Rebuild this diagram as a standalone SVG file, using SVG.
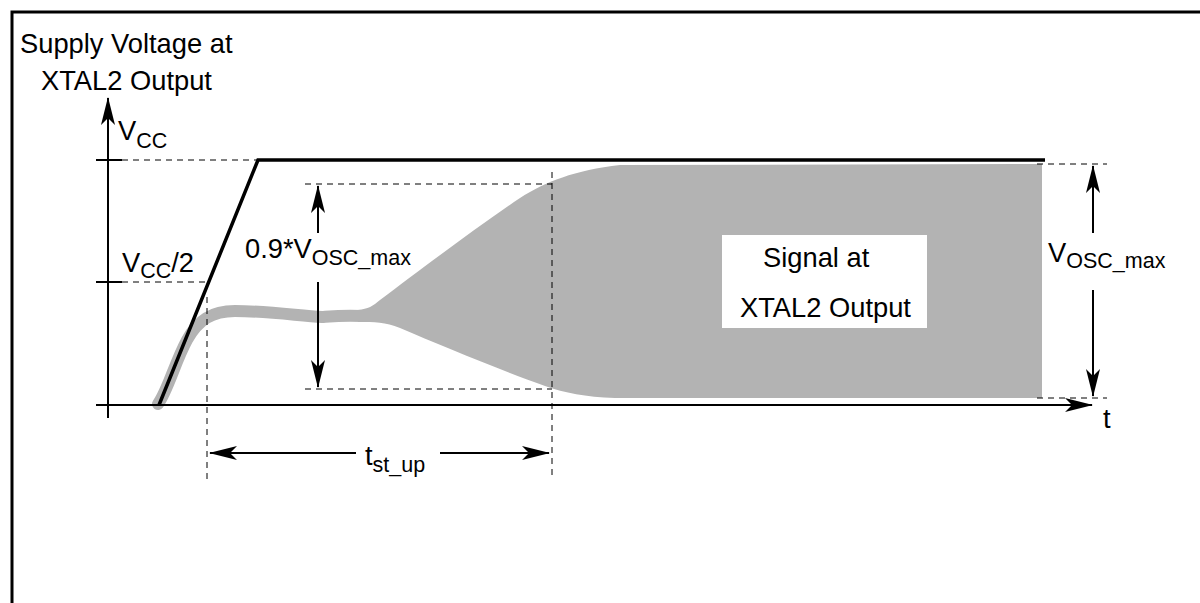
<svg xmlns="http://www.w3.org/2000/svg" width="1200" height="603" viewBox="0 0 1200 603">
<style>
text{font-family:"Liberation Sans",Arial,sans-serif;font-size:27.3px;fill:#000}
.sub{font-size:21.5px}
.dash{stroke:#000;stroke-width:1;stroke-dasharray:6,5;fill:none}
.ln{stroke:#000;stroke-width:2;fill:none}
</style>
<defs>
<marker id="ah" viewBox="0 0 28 14" refX="27" refY="7" markerWidth="28" markerHeight="14" markerUnits="userSpaceOnUse" orient="auto">
<path d="M0,0 L28,7 L0,14 L7,7 Z" fill="#000"/>
</marker>
</defs>
<rect width="1200" height="603" fill="#fff"/>
<g id="frame">
<path d="M12,603 L12,12 L1200,12" fill="none" stroke="#000" stroke-width="3"/>
</g>
<g id="signal">
<path d="M158,404 C168,390 175,362 187,340 C198,320 212,311 235,311 C270,311 300,316 322,317 C335,316 345,315 362,316" fill="none" stroke="#b3b3b3" stroke-width="12" stroke-linecap="round"/>
<path d="M358,310 C368,309 373,306 380,300 C420,270 470,232 520,198 C545,182 575,170 620,165 L1042,164 L1042,398 L615,398 C585,397 565,393 545,386 C500,370 440,345 400,328 C385,322 375,322 358,322 Z" fill="#b3b3b3"/>
<rect x="722" y="235" width="205" height="93" fill="#fff"/>
<text x="763" y="267">Signal at</text>
<text x="740" y="317">XTAL2 Output</text>
</g>
<g id="guides">
<line class="dash" x1="122" y1="160" x2="258" y2="160"/>
<line class="dash" x1="122" y1="282" x2="205" y2="282"/>
<line class="dash" x1="207" y1="297" x2="207" y2="480"/>
<line class="dash" x1="552" y1="172" x2="552" y2="480"/>
<line class="dash" x1="305" y1="184" x2="552" y2="184"/>
<line class="dash" x1="305" y1="389" x2="552" y2="389"/>
<line class="dash" x1="1037" y1="164" x2="1107" y2="164"/>
<line class="dash" x1="1037" y1="398" x2="1107" y2="398"/>
</g>
<g id="axes">
<line class="ln" x1="108" y1="418" x2="108" y2="98" marker-end="url(#ah)"/>
<line class="ln" x1="96" y1="405" x2="1092" y2="405" marker-end="url(#ah)"/>
<line class="ln" x1="96" y1="160" x2="122" y2="160"/>
<line class="ln" x1="96" y1="282" x2="122" y2="282"/>
</g>
<g id="supply">
<path d="M159,405 L258,160 L1045,160" fill="none" stroke="#000" stroke-width="3.5"/>
</g>
<g id="connectors">
<line class="ln" x1="318" y1="233" x2="318" y2="186" marker-end="url(#ah)"/>
<line class="ln" x1="318" y1="282" x2="318" y2="387" marker-end="url(#ah)"/>
<line class="ln" x1="1093" y1="233" x2="1093" y2="166" marker-end="url(#ah)"/>
<line class="ln" x1="1093" y1="290" x2="1093" y2="396" marker-end="url(#ah)"/>
<line class="ln" x1="356" y1="453" x2="210" y2="453" marker-end="url(#ah)"/>
<line class="ln" x1="440" y1="453" x2="549" y2="453" marker-end="url(#ah)"/>
</g>
<g id="labels">
<text x="20" y="53">Supply Voltage at</text>
<text x="41" y="90">XTAL2 Output</text>
<text x="118" y="140">V<tspan class="sub" dy="8">CC</tspan></text>
<text x="122" y="272">V<tspan class="sub" dy="6">CC</tspan><tspan dy="-6">/2</tspan></text>
<text x="245" y="258">0.9*V<tspan class="sub" dy="7">OSC_max</tspan></text>
<text x="1048" y="262">V<tspan class="sub" dy="6">OSC_max</tspan></text>
<text x="365" y="465">t<tspan class="sub" dy="7">st_up</tspan></text>
<text x="1103" y="428">t</text>
</g>
</svg>
